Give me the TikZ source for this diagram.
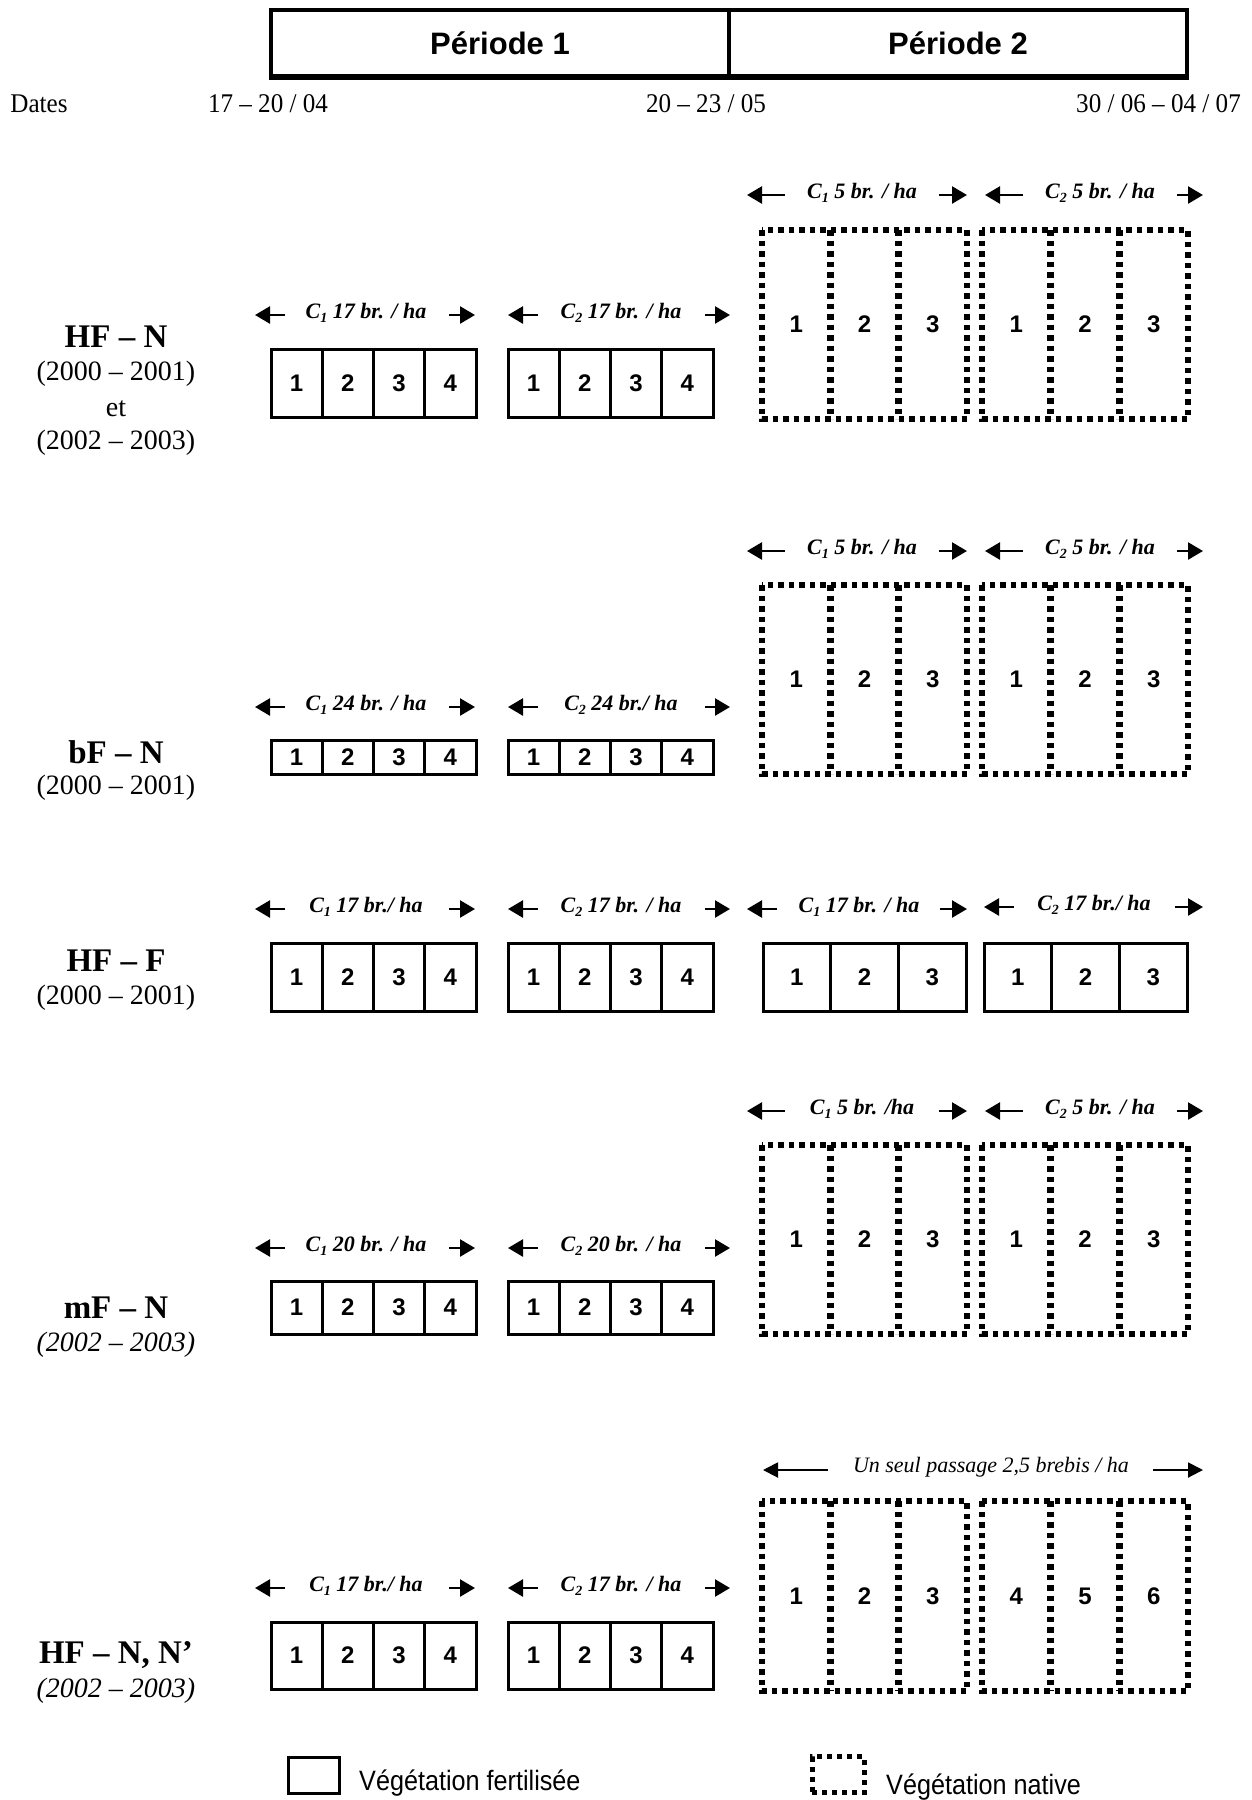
\documentclass[tikz,border=0pt]{standalone}
\usepackage{fontspec}
\setmainfont{Liberation Serif}
\newfontfamily\arialf{Liberation Sans}
\newfontfamily\arialn{Liberation Sans}[FakeStretch=0.9]
\newfontfamily\timesn{Liberation Serif}[FakeStretch=0.93]
\usetikzlibrary{arrows.meta}

\newcommand{\lowsub}[1]{\raisebox{-4pt}{\fontsize{14}{14}\selectfont #1}}

% solid group: name, x0, y0, x1, y1, n
\newcommand{\solidgrp}[6]{%
  \pgfmathsetmacro\cw{(#4-#2)/#6}%
  \pgfmathsetmacro\ch{#5-#3}%
  \foreach \i in {1,...,#6}{%
    \node[cell, minimum width=\cw pt, minimum height=\ch pt] (#1-\i) at ({#2+(\i-0.5)*\cw},{(#3+#5)/2}) {\i};
  }%
}
% dashed group: name, x0, y0, x1, y1, first number
\newcommand{\dashgrp}[6]{%
  \draw[native] (#2,#3) rectangle (#4,#5);
  \pgfmathsetmacro\dw{(#4-#2)/3}%
  \draw[nativein] ({#2+\dw},#3) -- ({#2+\dw},#5);
  \draw[nativein] ({#2+2*\dw},#3) -- ({#2+2*\dw},#5);
  \foreach \k in {0,1,2}{%
    \pgfmathtruncatemacro\nn{#6+\k}%
    \node[num] (#1-\nn) at ({#2+(\k+0.5)*\dw},{(#3+#5)/2}) {\nn};
  }%
}
% label with arrows: name, y, left tip, left tail, x centre, right tail, right tip, text
\newcommand{\grplab}[8]{%
  \coordinate (#1-a) at (#4,#2);
  \coordinate (#1-b) at (#3,#2);
  \coordinate (#1-c) at (#6,#2);
  \coordinate (#1-d) at (#7,#2);
  \draw[labarrow] (#1-a) -- (#1-b);
  \draw[labarrow] (#1-c) -- (#1-d);
  \node[labtxt, anchor=base] (#1) at (#5,{#2+3}) {#8};
}

\begin{document}
\begin{tikzpicture}[x=1pt,y=-1pt,
  cell/.style={draw, line width=3pt, inner sep=0pt, font=\arialf\bfseries\fontsize{24}{24}\selectfont},
  num/.style={inner sep=0pt, font=\arialf\bfseries\fontsize{24}{24}\selectfont},
  native/.style={line width=5.5pt, dash pattern=on 5.5pt off 5pt},
  nativein/.style={line width=6.5pt, dash pattern=on 5.5pt off 5pt},
  labarrow/.style={line width=2.5pt, -{Triangle[length=15pt,width=17pt]}},
  longarrow/.style={line width=2pt, -{Triangle[length=15pt,width=15pt]}},
  labtxt/.style={inner sep=0pt, font=\bfseries\itshape\fontsize{22}{22}\selectfont},
  hdr/.style={draw, line width=3.5pt, inner sep=0pt, font=\arialf\bfseries\fontsize{31}{31}\selectfont},
  datetxt/.style={inner sep=0pt, font=\timesn\fontsize{27}{27}\selectfont},
  rowtitle/.style={inner sep=0pt, font=\bfseries\fontsize{33}{33}\selectfont},
  rowyear/.style={inner sep=0pt, font=\fontsize{28}{28}\selectfont},
  rowyeari/.style={inner sep=0pt, font=\itshape\fontsize{28}{28}\selectfont},
  legtxt/.style={inner sep=0pt, font=\arialn\fontsize{28}{28}\selectfont}
]
\useasboundingbox[fill=white] (0,0) rectangle (1251,1800);

% header
\node[hdr, minimum width=458pt, minimum height=66pt] (per1) at (500,43) {Période 1};
\node[hdr, minimum width=458pt, minimum height=66pt] (per2) at (958,43) {Période 2};
\draw[line width=5pt] (per1.south west) -- (per2.south east);

% dates
\node[datetxt] (dates) at (39,104) {Dates};
\node[datetxt] (d1) at (268,104) {17 – 20 / 04};
\node[datetxt] (d2) at (706,104) {20 – 23 / 05};
\node[datetxt, anchor=east] (d3) at (1241,104) {30 / 06 – 04 / 07};

% ---------- Row 1 : HF - N ----------
\node[rowtitle] (t1) at (116,337) {HF – N};
\node[rowyear] (t1a) at (116,374) {(2000 – 2001)};
\node[rowyear] (t1b) at (116,409) {et};
\node[rowyear] (t1c) at (116,443) {(2002 – 2003)};
\solidgrp{r1a}{271}{349}{476}{417}{4}
\solidgrp{r1b}{508}{349}{713}{417}{4}
\dashgrp{r1c}{762}{230}{967}{419}{1}
\dashgrp{r1d}{982}{230}{1188}{419}{1}
\grplab{r1la}{315}{255}{285}{366}{449}{475}{C\lowsub{1} 17 br. / ha}
\grplab{r1lb}{315}{508}{538}{621}{705}{730}{C\lowsub{2} 17 br. / ha}
\grplab{r1lc}{195}{747}{785}{862}{939}{967}{C\lowsub{1} 5 br. / ha}
\grplab{r1ld}{195}{985}{1023}{1100}{1177}{1203}{C\lowsub{2} 5 br. / ha}

% ---------- Row 2 : bF - N ----------
\node[rowtitle] (t2) at (116,752) {bF – N};
\node[rowyear] (t2a) at (116,788) {(2000 – 2001)};
\solidgrp{r2a}{271}{740}{476}{774}{4}
\solidgrp{r2b}{508}{740}{713}{774}{4}
\dashgrp{r2c}{762}{585}{967}{774}{1}
\dashgrp{r2d}{982}{585}{1188}{774}{1}
\grplab{r2la}{707}{255}{285}{366}{449}{475}{C\lowsub{1} 24 br. / ha}
\grplab{r2lb}{707}{508}{538}{621}{705}{730}{C\lowsub{2} 24 br./ ha}
\grplab{r2lc}{551}{747}{785}{862}{939}{967}{C\lowsub{1} 5 br. / ha}
\grplab{r2ld}{551}{985}{1023}{1100}{1177}{1203}{C\lowsub{2} 5 br. / ha}

% ---------- Row 3 : HF - F ----------
\node[rowtitle] (t3) at (116,961) {HF – F};
\node[rowyear] (t3a) at (116,998) {(2000 – 2001)};
\solidgrp{r3a}{271}{943}{476}{1011}{4}
\solidgrp{r3b}{508}{943}{713}{1011}{4}
\solidgrp{r3c}{763}{943}{966}{1011}{3}
\solidgrp{r3d}{984}{943}{1187}{1011}{3}
\grplab{r3la}{909}{255}{285}{366}{449}{475}{C\lowsub{1} 17 br./ ha}
\grplab{r3lb}{909}{508}{538}{621}{705}{730}{C\lowsub{2} 17 br. / ha}
\grplab{r3lc}{909}{747}{777}{859}{940}{967}{C\lowsub{1} 17 br. / ha}
\grplab{r3ld}{907}{984}{1014}{1094}{1175}{1203}{C\lowsub{2} 17 br./ ha}

% ---------- Row 4 : mF - N ----------
\node[rowtitle] (t4) at (116,1308) {mF – N};
\node[rowyeari] (t4a) at (116,1345) {(2002 – 2003)};
\solidgrp{r4a}{271}{1281}{476}{1334}{4}
\solidgrp{r4b}{508}{1281}{713}{1334}{4}
\dashgrp{r4c}{762}{1145}{967}{1334}{1}
\dashgrp{r4d}{982}{1145}{1188}{1334}{1}
\grplab{r4la}{1248}{255}{285}{366}{449}{475}{C\lowsub{1} 20 br. / ha}
\grplab{r4lb}{1248}{508}{538}{621}{705}{730}{C\lowsub{2} 20 br. / ha}
\grplab{r4lc}{1111}{747}{785}{862}{939}{967}{C\lowsub{1} 5 br. /ha}
\grplab{r4ld}{1111}{985}{1023}{1100}{1177}{1203}{C\lowsub{2} 5 br. / ha}

% ---------- Row 5 : HF - N, N' ----------
\node[rowtitle] (t5) at (116,1655) {HF – N, N’};
\node[rowyeari] (t5a) at (116,1691) {(2002 – 2003)};
\solidgrp{r5a}{271}{1622}{476}{1689}{4}
\solidgrp{r5b}{508}{1622}{713}{1689}{4}
\dashgrp{r5c}{762}{1501}{967}{1691}{1}
\dashgrp{r5d}{982}{1501}{1188}{1691}{4}
\grplab{r5la}{1588}{255}{285}{366}{449}{475}{C\lowsub{1} 17 br./ ha}
\grplab{r5lb}{1588}{508}{538}{621}{705}{730}{C\lowsub{2} 17 br. / ha}
\coordinate (r5l-a) at (828,1470);
\coordinate (r5l-b) at (763,1470);
\coordinate (r5l-c) at (1153,1470);
\coordinate (r5l-d) at (1203,1470);
\draw[longarrow] (r5l-a) -- (r5l-b);
\draw[longarrow] (r5l-c) -- (r5l-d);
\node[inner sep=0pt, anchor=base, font=\itshape\fontsize{22}{22}\selectfont] (r5l) at (991,1472) {Un seul passage 2,5 brebis / ha};

% ---------- Legend ----------
\node[draw, line width=3pt, inner sep=0pt, minimum width=51pt, minimum height=36pt] (leg1) at (313.5,1775) {};
\node[legtxt, anchor=west] (leg1t) at (359,1783) {Végétation fertilisée};
\node[draw, line width=5pt, dash pattern=on 5pt off 5pt, inner sep=0pt, minimum width=52pt, minimum height=36pt] (leg2) at (838,1774.5) {};
\node[legtxt, anchor=west] (leg2t) at (886,1787) {Végétation native};
\end{tikzpicture}
\end{document}
